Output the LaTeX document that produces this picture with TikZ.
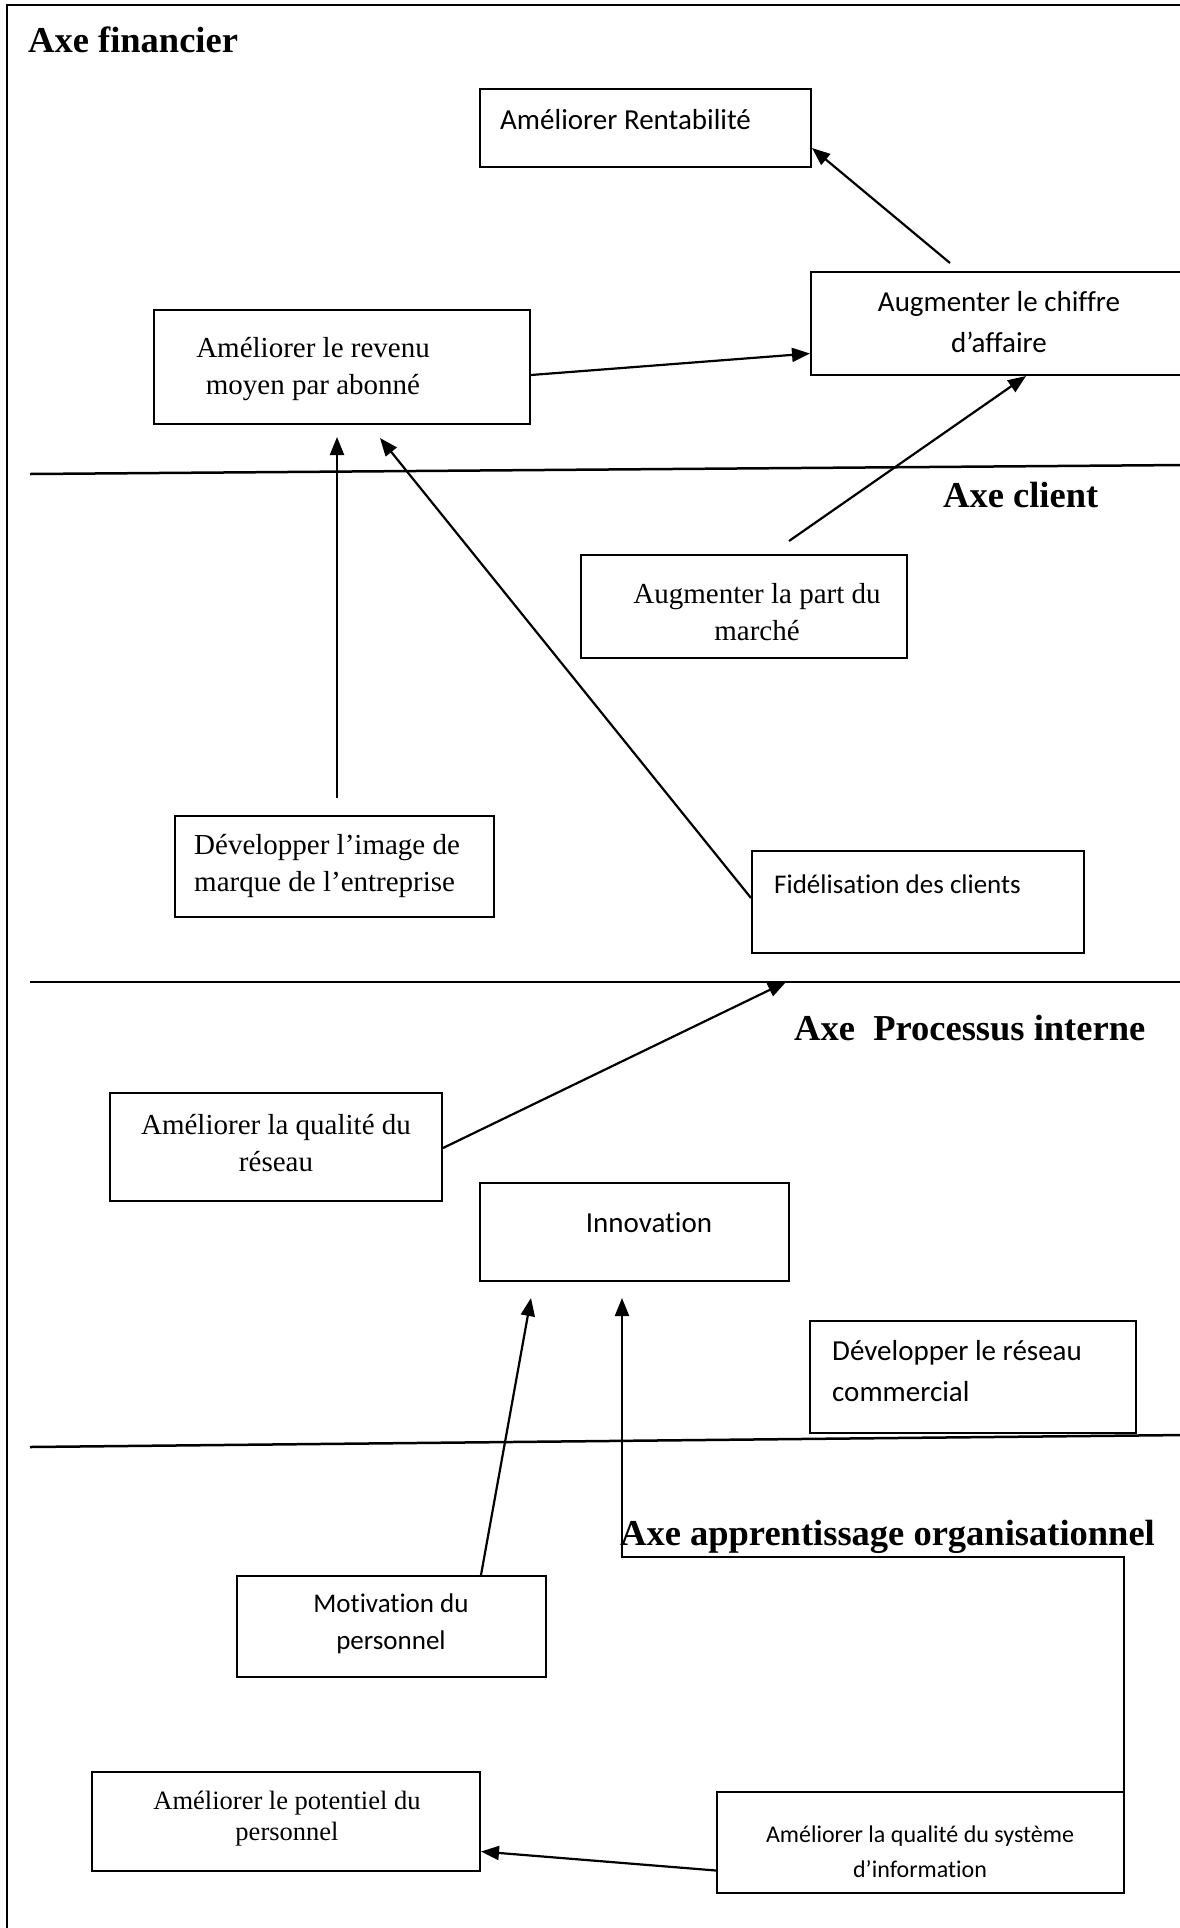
\documentclass[tikz,border=0pt]{standalone}
\usepackage{fontspec}
\setmainfont{Liberation Serif}
\newfontfamily\tmsfont{Liberation Serif}
\newfontfamily\calfont[Ligatures=NoCommon]{Carlito}
\usetikzlibrary{arrows.meta}

\tikzset{
  box/.style={draw, line width=2pt, inner sep=0pt},
  txt/.style={inner sep=0pt, align=center},
  ltxt/.style={inner sep=0pt, align=left, anchor=west},
  serif/.style={font={\tmsfont\fontsize{29}{37}\selectfont}},
  sans/.style={font={\calfont\fontsize{29}{41}\selectfont}},
  axis/.style={inner sep=0pt, anchor=base west, font={\tmsfont\bfseries\fontsize{36.5}{40}\selectfont}},
  link/.style={line width=2.2pt, -{Triangle[length=18pt,width=14pt]}},
  sep/.style={line width=2.5pt}
}

\begin{document}
\begin{tikzpicture}[x=1pt, y=-1pt]
\useasboundingbox (0,0) rectangle (1180,1928);

% outer frame (top and left sides)
\draw[line width=2pt] (1185,5) -- (7,5) -- (7,1935);

% separators between the four axes
\draw[sep] (30,474) -- (1185,465);
\draw[sep] (30,982) -- (1185,982);
\draw[sep] (30,1447) -- (1185,1435);

% axis titles
\node[axis] (t-fin) at (28,52) {Axe financier};
\node[axis] (t-cli) at (943,507) {Axe client};
\node[axis] (t-pro) at (794,1040) {Axe\ \ Processus interne};

% boxes
\node[box, minimum width=331, minimum height=78]  (rent) at (645.5,128) {};
\node[box, minimum width=379, minimum height=103] (chif) at (1000.5,323.5) {};
\node[box, minimum width=376, minimum height=114] (rev)  at (342,367) {};
\node[box, minimum width=326, minimum height=103] (part) at (744,606.5) {};
\node[box, minimum width=319, minimum height=101] (img)  at (334.5,866.5) {};
\node[box, minimum width=332, minimum height=102] (fid)  at (918,902) {};
\node[box, minimum width=332, minimum height=108] (qres) at (276,1147) {};
\node[box, minimum width=309, minimum height=98]  (inno) at (634.5,1232) {};
\node[box, minimum width=326, minimum height=112] (dres) at (973,1377) {};
\node[box, minimum width=309, minimum height=101] (moti) at (391.5,1626.5) {};
\node[box, minimum width=388, minimum height=99]  (pot)  at (286,1821.5) {};
\node[box, minimum width=407, minimum height=101] (si)   at (920.5,1842.5) {};

% box texts
\node[ltxt, sans] (rent-t) at (500,120) {Améliorer Rentabilité};
\node[txt, sans] (chif-t) at (999,322) {Augmenter le chiffre\\d’affaire};
\node[txt, serif] (rev-t) at (313,369) {Améliorer le revenu\\moyen par abonné};
\node[txt, serif] (part-t) at (757,612) {Augmenter la part du\\marché};
\node[ltxt, serif] (img-t) at (194,866) {Développer l’image de\\marque de l’entreprise};
\node[ltxt, font={\calfont\fontsize{27}{37}\selectfont}] (fid-t) at (774,884) {Fidélisation des clients};
\node[txt, serif] (qres-t) at (276,1143) {Améliorer la qualité du\\réseau};
\node[txt, sans] (inno-t) at (649,1223) {Innovation};
\node[ltxt, sans] (dres-t) at (832,1371) {Développer le réseau\\commercial};
\node[txt, font={\calfont\fontsize{27}{37}\selectfont}] (moti-t) at (391,1624) {Motivation du\\personnel};
\node[txt, font={\tmsfont\fontsize{26.5}{31}\selectfont}] (pot-t) at (287,1819) {Améliorer le potentiel du\\personnel};
\node[txt, font={\calfont\fontsize{24}{35}\selectfont}] (si-t) at (920,1852) {Améliorer la qualité du système\\d’information};

\node[axis] (t-app) at (620,1545) {Axe apprentissage organisationnel};

% free ends of connectors
\coordinate (c1) at (950,263);
\coordinate (c3) at (789,541);
\coordinate (c4a) at (337,798);
\coordinate (c4b) at (337,437);
\coordinate (c5) at (380,438);
\coordinate (c6) at (786,982);
\coordinate (c7) at (531,1298);
\coordinate (c8a) at (1124,1816);
\coordinate (c8b) at (1124,1557);
\coordinate (c8c) at (622,1557);
\coordinate (c8d) at (622,1298);

% connectors
\draw[link] (c1) -- ([yshift=-20pt]rent.east);
\draw[link] ([yshift=-8pt]rev.east) -- ([yshift=-30pt]chif.west);
\draw[link] (c3) -- ([xshift=216pt]chif.south west);
\draw[link] (c4a) -- (c4b);
\draw[link] ([yshift=4pt]fid.west) -- (c5);
\draw[link] ([yshift=-1pt]qres.east) -- (c6);
\draw[link] ([xshift=245pt]moti.north west) -- (c7);
\draw[link] (c8a) -- (c8b) -- (c8c) -- (c8d);
\draw[link] ([yshift=-28pt]si.west) -- ([yshift=-30pt]pot.east);
\end{tikzpicture}
\end{document}
